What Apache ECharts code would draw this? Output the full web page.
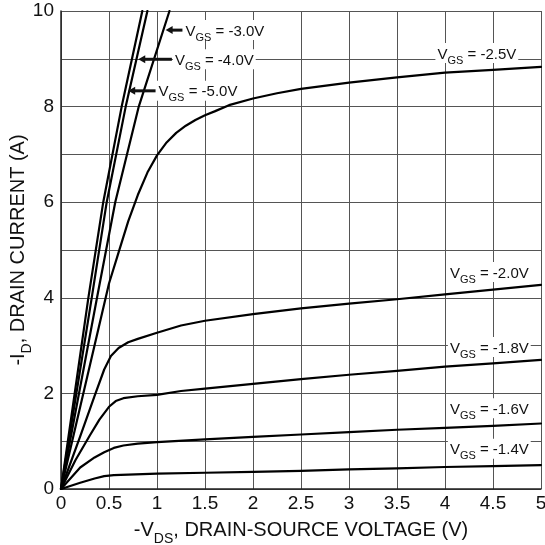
<!DOCTYPE html>
<html>
<head>
<meta charset="utf-8">
<script src="https://cdn.jsdelivr.net/npm/echarts@6/dist/echarts.min.js"></script>
<style>
html,body{margin:0;padding:0;background:#fff;}
#main{width:545px;height:545px;}
</style>
</head>
<body>
<div id="main"></div>
<script>
// ---- data ----
const xTickLabels = ['0','0.5','1','1.5','2','2.5','3','3.5','4','4.5','5'];
const yTickLabels = ['0','2','4','6','8','10'];

const vgs14 = [[0,0],[0.2,0.13],[0.35,0.22],[0.45,0.27],[0.55,0.29],[0.7,0.3],[1,0.32],[1.5,0.34],[2,0.36],[2.5,0.38],[3,0.41],[3.5,0.43],[4,0.46],[4.5,0.48],[5,0.5]];
const vgs16 = [[0,0],[0.2,0.45],[0.35,0.66],[0.45,0.77],[0.55,0.86],[0.65,0.91],[0.8,0.95],[1,0.98],[1.5,1.04],[2,1.09],[2.5,1.14],[3,1.19],[3.5,1.24],[4,1.28],[4.5,1.32],[5,1.37]];
const vgs18 = [[0,0],[0.15,0.6],[0.3,1.12],[0.4,1.45],[0.5,1.72],[0.57,1.84],[0.65,1.9],[0.8,1.94],[1,1.97],[1.25,2.05],[1.5,2.1],[2,2.2],[2.5,2.3],[3,2.39],[3.5,2.47],[4,2.56],[4.5,2.63],[5,2.7]];
const vgs20 = [[0,0],[0.2,1.1],[0.35,1.95],[0.45,2.5],[0.52,2.78],[0.6,2.95],[0.7,3.07],[0.8,3.14],[1,3.27],[1.25,3.42],[1.5,3.52],[2,3.66],[2.5,3.78],[3,3.88],[3.5,3.97],[4,4.07],[4.5,4.17],[5,4.27]];
const vgs25 = [[0,0],[0.25,2.15],[0.5,4.3],[0.6,4.95],[0.7,5.6],[0.8,6.15],[0.9,6.62],[1,6.98],[1.1,7.25],[1.2,7.45],[1.3,7.6],[1.4,7.72],[1.5,7.82],[1.6,7.9],[1.75,8.03],[2,8.17],[2.25,8.28],[2.5,8.37],[3,8.5],[3.5,8.61],[4,8.71],[4.5,8.77],[5,8.83]];
const vgs30 = [[0,0],[0.375,4],[0.565,6],[0.81,8],[1.13,10]];
const vgs40 = [[0,0],[0.32,4],[0.476,6],[0.674,8],[0.9,10]];
const vgs50 = [[0,0],[0.285,4],[0.44,6],[0.632,8],[0.847,10]];

// label texts and anchor points (data coordinates)
const labelTexts = ['-2.5V','-2.0V','-1.8V','-1.6V','-1.4V'];
const labelAnchors = [[3.9,9.12],[4.03,4.54],[4.03,2.97],[4.03,1.69],[4.03,0.84]];
const arrowTexts = ['-3.0V','-4.0V','-5.0V'];
const arrowTails = [[1.265,9.6],[1.155,8.99],[0.985,8.33]];
const arrowTips = [[1.09,9.6],[0.805,8.99],[0.7,8.33]];

const FONT = '"Liberation Sans", Arial, sans-serif';
const chart = echarts.init(document.getElementById('main'));

function mk(d){
  return {type:'line', data:d, symbol:'none', smooth:false,
    lineStyle:{color:'#000', width:2.2, join:'round', cap:'round'}, clip:true, animation:false, silent:true};
}

chart.setOption({
  animation:false,
  textStyle:{fontFamily:FONT},
  grid:{left:61, right:4, top:11, bottom:56, containLabel:false, outerBoundsMode:'none'},
  xAxis:{
    type:'value', min:0, max:5, interval:0.5,
    axisLine:{show:true, onZero:false, lineStyle:{color:'#222', width:1.5}},
    axisTick:{show:false},
    splitLine:{show:true, lineStyle:{color:'#555', width:1}},
    axisLabel:{color:'#111', fontSize:19, margin:5, fontFamily:FONT,
      formatter:(v)=>xTickLabels[Math.round(v*2)]},
    name:'{n|-V}{s|DS}{n|, DRAIN-SOURCE VOLTAGE (V)}',
    nameLocation:'middle', nameGap:27, nameMoveOverlap:false,
    nameTextStyle:{fontFamily:FONT, rich:{
      n:{fontSize:20, color:'#111', fontFamily:FONT, verticalAlign:'bottom', lineHeight:24},
      s:{fontSize:14, color:'#111', fontFamily:FONT, verticalAlign:'bottom', lineHeight:18, padding:[0,0,-6,0]}
    }}
  },
  yAxis:{
    type:'value', min:0, max:10, interval:1,
    axisLine:{show:true, onZero:false, lineStyle:{color:'#222', width:1.5}},
    axisTick:{show:false},
    splitLine:{show:true, lineStyle:{color:'#555', width:1}},
    axisLabel:{color:'#111', fontSize:19, margin:7, fontFamily:FONT,
      formatter:(v)=> (Math.round(v)%2===0 ? yTickLabels[Math.round(v)/2] : '')},
    name:'{n|-I}{s|D}{n|, DRAIN CURRENT (A)}',
    nameLocation:'middle', nameGap:33, nameRotate:90, nameMoveOverlap:false,
    nameTextStyle:{fontFamily:FONT, rich:{
      n:{fontSize:20, color:'#111', fontFamily:FONT, verticalAlign:'bottom', lineHeight:24},
      s:{fontSize:14, color:'#111', fontFamily:FONT, verticalAlign:'bottom', lineHeight:18, padding:[0,0,-6,0]}
    }}
  },
  series:[mk(vgs14), mk(vgs16), mk(vgs18), mk(vgs20), mk(vgs25), mk(vgs30), mk(vgs40), mk(vgs50)]
});

function richLabel(val){
  return {
    text:'{n|V}{s|GS}{n| = ' + val + '}',
    rich:{
      n:{fontSize:15, fill:'#111', fontFamily:FONT, verticalAlign:'bottom', lineHeight:18},
      s:{fontSize:11, fill:'#111', fontFamily:FONT, verticalAlign:'bottom', lineHeight:14, padding:[0,0,-4,0]}
    },
    fontFamily:FONT, backgroundColor:'#fff', padding:[1,2,1,2],
    verticalAlign:'middle', align:'left'
  };
}

const g = [];
labelAnchors.forEach((a,i)=>{
  const p = chart.convertToPixel({gridIndex:0}, a);
  g.push({type:'text', x:p[0], y:p[1], z:100, style:richLabel(labelTexts[i])});
});
arrowTails.forEach((t,i)=>{
  const pt = chart.convertToPixel({gridIndex:0}, t);
  const ph = chart.convertToPixel({gridIndex:0}, arrowTips[i]);
  const headLen = 7;
  g.push({type:'line', z:100, shape:{x1:pt[0], y1:pt[1], x2:ph[0]+headLen-1, y2:ph[1]},
    style:{stroke:'#111', lineWidth:3}});
  g.push({type:'polygon', z:100, shape:{points:[[ph[0],ph[1]],[ph[0]+headLen,ph[1]-4],[ph[0]+headLen,ph[1]+4]]},
    style:{fill:'#111'}});
  g.push({type:'text', x:pt[0]+1, y:pt[1], z:100, style:richLabel(arrowTexts[i])});
});
chart.setOption({graphic:g});
</script>
</body>
</html>
